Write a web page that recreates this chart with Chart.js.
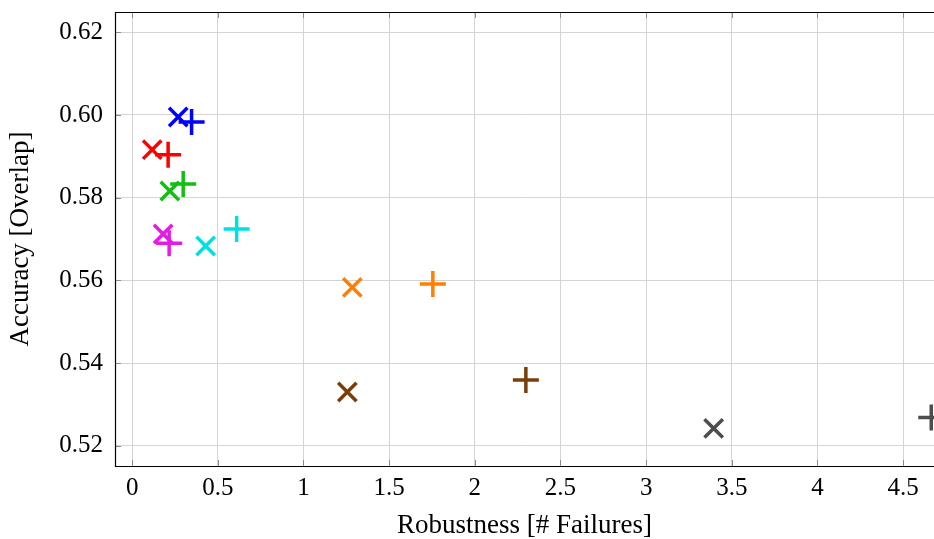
<!DOCTYPE html>
<html>
<head>
<meta charset="utf-8">
<script src="https://cdn.jsdelivr.net/npm/chart.js@4/dist/chart.umd.min.js"></script>
<style>
  html, body { margin: 0; padding: 0; background: #fff; }
  #wrap { width: 934px; height: 539px; }
</style>
</head>
<body>
<div id="wrap"><canvas id="chart"></canvas></div>
<script>
// one entry per tracker: an "x" mark and a "+" mark
const colors = ["#0000ff", "#ff0000", "#10c010", "#e619e6", "#00e0e0", "#ff8000", "#7a3f08", "#4d4d4d"];
const crossX = [0.269, 0.117, 0.220, 0.181, 0.429, 1.285, 1.256, 3.394];
const crossY = [0.5995, 0.5916, 0.5816, 0.5712, 0.5683, 0.5583, 0.5330, 0.5242];
const plusX = [0.347, 0.210, 0.298, 0.216, 0.610, 1.755, 2.298, 4.664];
const plusY = [0.5983, 0.5904, 0.5833, 0.5690, 0.5724, 0.5591, 0.5359, 0.5268];

const xTicks = [0, 0.5, 1, 1.5, 2, 2.5, 3, 3.5, 4, 4.5];
const yTicks = [0.52, 0.54, 0.56, 0.58, 0.60, 0.62];

const serif = "'Liberation Serif', 'DejaVu Serif', serif";

const datasets = colors.map((c, i) => ({
    data: [{ x: crossX[i], y: crossY[i] }, { x: plusX[i], y: plusY[i] }],
    pointStyle: ["crossRot", "cross"],
    pointRadius: 13,
    pointHoverRadius: 13,
    pointBorderWidth: 3.5,
    pointBorderColor: c,
    pointBackgroundColor: c,
    clip: false,
}));

// frame and inward tick marks, like pgfplots
const framePlugin = {
    id: "frame",
    beforeDatasetsDraw(chart) {
        const { ctx, chartArea: a, scales } = chart;
        ctx.save();
        ctx.strokeStyle = "#8c8c8c";
        ctx.lineWidth = 1;
        ctx.beginPath();
        scales.x.ticks.forEach(t => {
            const px = Math.round(scales.x.getPixelForValue(t.value)) + 0.5;
            ctx.moveTo(px, a.bottom); ctx.lineTo(px, a.bottom - 6);
            ctx.moveTo(px, a.top); ctx.lineTo(px, a.top + 6);
        });
        scales.y.ticks.forEach(t => {
            const py = Math.round(scales.y.getPixelForValue(t.value)) + 0.5;
            ctx.moveTo(a.left, py); ctx.lineTo(a.left + 6, py);
        });
        ctx.stroke();
        ctx.restore();
    },
    afterDraw(chart) {
        const { ctx, chartArea: a } = chart;
        ctx.save();
        ctx.strokeStyle = "#000";
        ctx.lineWidth = 1.2;
        ctx.beginPath();
        ctx.moveTo(a.right + 2, a.top + 0.5);
        ctx.lineTo(a.left + 0.5, a.top + 0.5);
        ctx.lineTo(a.left + 0.5, a.bottom + 0.5);
        ctx.lineTo(a.right + 2, a.bottom + 0.5);
        ctx.stroke();
        ctx.restore();
    },
};

const noPad = s => { s.paddingTop = 0; s.paddingBottom = 0; s.paddingLeft = 0; s.paddingRight = 0; };

new Chart(document.getElementById("chart"), {
    type: "scatter",
    data: { datasets },
    options: {
        responsive: true,
        maintainAspectRatio: false,
        animation: false,
        layout: { autoPadding: false, padding: { top: 12, right: 0, left: 0, bottom: 0 } },
        plugins: { legend: { display: false }, tooltip: { enabled: false } },
        scales: {
            x: {
                type: "linear",
                min: -0.1,
                max: 4.68,
                afterBuildTicks: s => { s.ticks = xTicks.map(v => ({ value: v })); },
                afterFit: s => { s.height = 73; noPad(s); },
                grid: { color: "#d4d4d4", lineWidth: 1, drawTicks: false },
                border: { display: false },
                ticks: {
                    color: "#000",
                    padding: 7,
                    maxRotation: 0,
                    font: { family: serif, size: 25 },
                    callback: v => String(v),
                },
                title: {
                    display: true,
                    text: "Robustness [# Failures]",
                    color: "#000",
                    font: { family: serif, size: 27, lineHeight: 1 },
                    padding: { top: 0, bottom: 0 },
                },
            },
            y: {
                type: "linear",
                min: 0.5151,
                max: 0.6249,
                afterBuildTicks: s => { s.ticks = yTicks.map(v => ({ value: v })); },
                afterFit: s => { s.width = 115; noPad(s); },
                grid: { color: "#d4d4d4", lineWidth: 1, drawTicks: false },
                border: { display: false },
                ticks: {
                    color: "#000",
                    padding: 12,
                    font: { family: serif, size: 25 },
                    callback: v => v.toFixed(2),
                },
                title: {
                    display: true,
                    text: "Accuracy [Overlap]",
                    color: "#000",
                    font: { family: serif, size: 27, lineHeight: 1 },
                    padding: { top: 7, bottom: 0 },
                },
            },
        },
    },
    plugins: [framePlugin],
});
</script>
</body>
</html>
